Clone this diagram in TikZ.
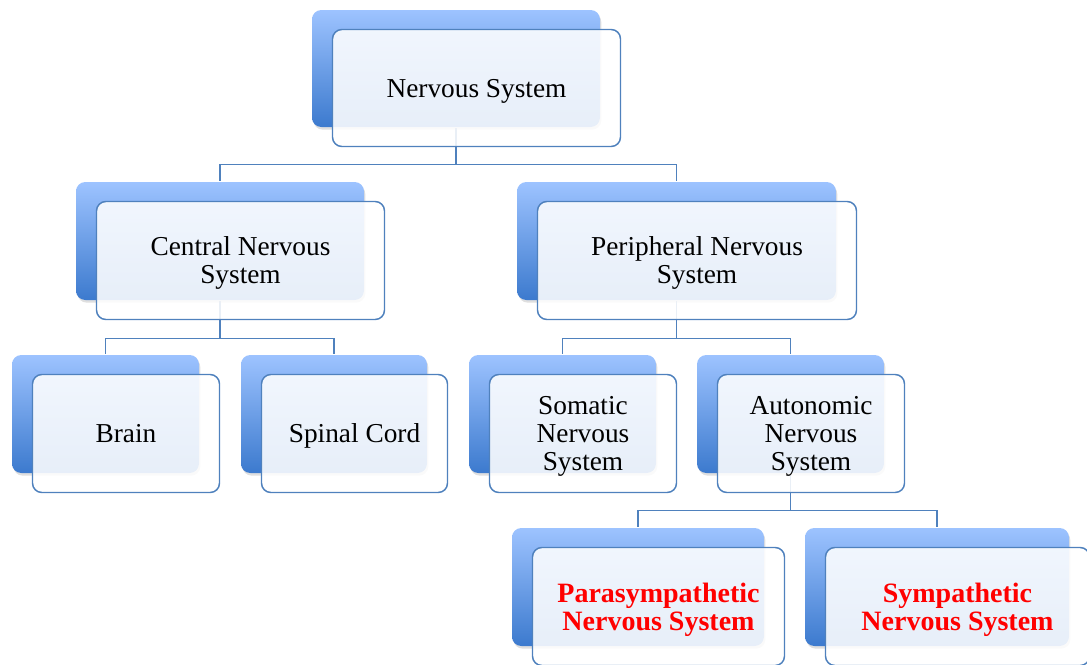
\documentclass[tikz,border=0pt]{standalone}
\usepackage{fontspec}
\setmainfont{Liberation Serif}
\usetikzlibrary{positioning}
\usetikzlibrary{shadows}
\usetikzlibrary{backgrounds}

\definecolor{boxtop}{RGB}{157,195,255}
\definecolor{boxbottom}{RGB}{60,122,206}
\definecolor{boxline}{RGB}{79,129,189}
\definecolor{hilite}{RGB}{255,0,0}

\begin{document}
\begin{tikzpicture}[
            x = 0.75pt, y = -0.75pt, % pixel units, y grows downwards
            line width = 1.1pt,
            font = \fontsize{20.5}{21}\selectfont
        ]

        \tikzstyle{back}=[
            rounded corners = 7pt,
            top color = boxtop,
            bottom color = boxbottom,
            draw = none,
            drop shadow = {opacity = 0.25, shadow xshift = 1pt, shadow yshift = -2pt},
            minimum height = 88.5pt
        ]
        \tikzstyle{front}=[
            rounded corners = 7pt,
            draw = boxline,
            fill = white,
            fill opacity = 0.88,
            text opacity = 1,
            align = center,
            inner sep = 0pt,
            text depth = 0pt,
            minimum height = 88.5pt
        ]
        \tikzstyle{red text}=[
            text = hilite,
            font = \fontsize{21}{21}\selectfont\bfseries
        ]
        \tikzstyle{link}=[
            draw = boxline,
            line width = 1.1pt
        ]

        \useasboundingbox (0,0) rectangle (1087,664);

% top level
        \node[back, minimum width = 216pt, minimum height = 87.75pt] (root) at (456,68.5) {};
        \node[front, minimum width = 216pt, minimum height = 87.75pt] (root-f) at ([shift={(20.5,19.5)}]root.center) {Nervous System};

% second level
        \node[back, minimum width = 216pt] (cns) at (220,241) {};
        \node[front, minimum width = 216pt] (cns-f) at ([shift={(20.5,19.5)}]cns.center) {Central Nervous\\System};

        \node[back, minimum width = 239.25pt] (pns) at (676.5,241) {};
        \node[front, minimum width = 239.25pt] (pns-f) at ([shift={(20.5,19.5)}]pns.center) {Peripheral Nervous\\System};

% third level
        \node[back, minimum width = 140.25pt] (brain) at (105.5,414) {};
        \node[front, minimum width = 140.25pt] (brain-f) at ([shift={(20.5,19.5)}]brain.center) {Brain};

        \node[back, minimum width = 139.5pt] (spinal) at (334,414) {};
        \node[front, minimum width = 139.5pt] (spinal-f) at ([shift={(20.5,19.5)}]spinal.center) {Spinal Cord};

        \node[back, minimum width = 140.25pt] (somatic) at (562.5,414) {};
        \node[front, minimum width = 140.25pt] (somatic-f) at ([shift={(20.5,19.5)}]somatic.center) {Somatic\\Nervous\\System};

        \node[back, minimum width = 140.25pt] (autonomic) at (790.5,414) {};
        \node[front, minimum width = 140.25pt] (autonomic-f) at ([shift={(20.5,19.5)}]autonomic.center) {Autonomic\\Nervous\\System};

% bottom level
        \node[back, minimum width = 189pt] (para) at (638,587) {};
        \node[front, red text, minimum width = 189pt] (para-f) at ([shift={(20.5,19.5)}]para.center) {Parasympathetic\\Nervous System};

        \node[back, minimum width = 198pt] (symp) at (937,587) {};
        \node[front, red text, minimum width = 198pt] (symp-f) at ([shift={(20.5,19.5)}]symp.center) {Sympathetic\\Nervous System};

% connectors
    \begin{scope}[on background layer]
        \draw[link] (root.south) -- ++(0,37) -| (cns.north);
        \draw[link] (root.south) -- ++(0,37) -| (pns.north);
        \draw[link] (cns.south) -- ++(0,38) -| (brain.north);
        \draw[link] (cns.south) -- ++(0,38) -| (spinal.north);
        \draw[link] (pns.south) -- ++(0,38) -| (somatic.north);
        \draw[link] (pns.south) -- ++(0,38) -| (autonomic.north);
        \draw[link] (autonomic.south) -- ++(0,37) -| (para.north);
        \draw[link] (autonomic.south) -- ++(0,37) -| (symp.north);
    \end{scope}

\end{tikzpicture}
\end{document}
